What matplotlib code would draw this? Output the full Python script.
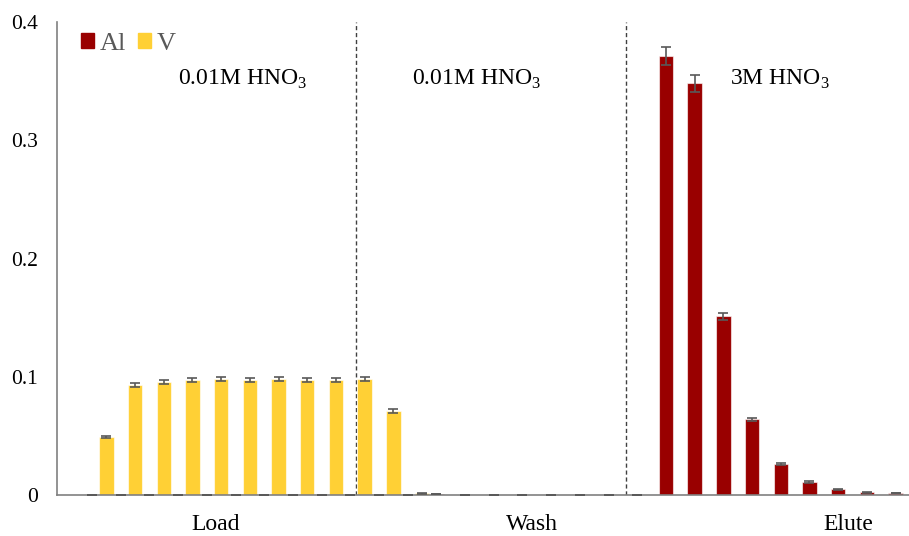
import numpy as np
import matplotlib
matplotlib.use("Agg")
from matplotlib import pyplot as plt
from matplotlib.patches import Patch

plt.rcParams['font.family'] = ['Liberation Serif', 'DejaVu Serif']
plt.rcParams['mathtext.fontset'] = 'custom'
plt.rcParams['mathtext.rm'] = 'Liberation Serif'

# fraction number along the column run (load 0-8, wash 9-18, elute 19-28)
fractions = np.arange(29)

al = [0, 0, 0, 0, 0, 0, 0, 0, 0,
      0, 0, 0, 0.0005, 0, 0, 0, 0, 0, 0,
      0, 0.371, 0.348, 0.151, 0.064, 0.026, 0.011, 0.005, 0.0025, 0.0017]
al_err = [0, 0, 0, 0, 0, 0, 0, 0, 0,
          0, 0, 0, 0, 0, 0, 0, 0, 0, 0,
          0, 0.0075, 0.007, 0.003, 0.0015, 0.0007, 0.0005, 0.0004, 0.0004, 0.0003]

v = [0.049, 0.093, 0.0955, 0.0975, 0.098, 0.0975, 0.098, 0.0975, 0.0975,
     0.098, 0.071, 0.0015] + [np.nan] * 17
v_err = [0.001, 0.002, 0.0018, 0.0018, 0.0018, 0.0018, 0.0018, 0.0018, 0.0018,
         0.0018, 0.0015, 0.0005] + [np.nan] * 17

steps = ['Load', 'Wash', 'Elute']
step_x = [4.07, 15.08, 26.09]
acids = ['0.01M HNO$_3$', '0.01M HNO$_3$', '3M HNO$_3$']
acid_x = [5.0, 13.17, 23.72]
dividers = [8.95, 18.35]

al_color = '#990000'
v_color = '#FFD035'
err_color = '#595959'

fig = plt.figure(figsize=(9.09, 5.36), dpi=100)
ax = fig.add_axes([57.3 / 909, 41 / 536, 1 - 57.3 / 909, 473 / 536])

w = 0.5
ax.bar(fractions - w / 2, al, width=w, color=al_color,
       edgecolor=(1, 1, 1, 0.6), linewidth=0.8, zorder=2)
ax.bar(fractions + w / 2, v, width=w, color=v_color,
       edgecolor=(1, 1, 1, 0.6), linewidth=0.8, zorder=2)
ax.errorbar(fractions - w / 2, al, yerr=al_err, fmt='none', ecolor=err_color,
            elinewidth=1.2, capsize=3.4, capthick=1.2, zorder=3)
ax.errorbar(fractions + w / 2, v, yerr=v_err, fmt='none', ecolor=err_color,
            elinewidth=1.2, capsize=3.4, capthick=1.2, zorder=3)

for d in dividers:
    ax.axvline(d, color='#404040', linestyle=(0, (3, 2)), linewidth=1, zorder=1)

ax.set_xlim(-1.46, 28.22)
ax.set_ylim(0, 0.4)
ax.set_yticks([0, 0.1, 0.2, 0.3, 0.4])
ax.set_yticklabels(['0', '0.1', '0.2', '0.3', '0.4'])
ax.set_xticks([])
ax.tick_params(axis='y', length=0, pad=14, labelsize=15.5)

for s in ['top', 'right']:
    ax.spines[s].set_visible(False)
for s in ['left', 'bottom']:
    ax.spines[s].set_color('#808080')
    ax.spines[s].set_linewidth(1.2)

trans = ax.get_xaxis_transform()
for name, x in zip(steps, step_x):
    ax.text(x, -0.062, name, transform=trans, ha='center', va='center', fontsize=17)

for label, x in zip(acids, acid_x):
    ax.text(x, 0.3515, label, ha='center', va='center', fontsize=17)

handles = [Patch(color=al_color, label='Al'), Patch(color=v_color, label='V')]
leg = ax.legend(handles=handles, loc='upper left', bbox_to_anchor=(0.0, 1.027),
                ncol=2, frameon=False, fontsize=19, handlelength=0.5,
                handleheight=0.5, handletextpad=0.2, columnspacing=0.45)
for t in leg.get_texts():
    t.set_color('#595959')

fig.savefig('out.png', dpi=100)
